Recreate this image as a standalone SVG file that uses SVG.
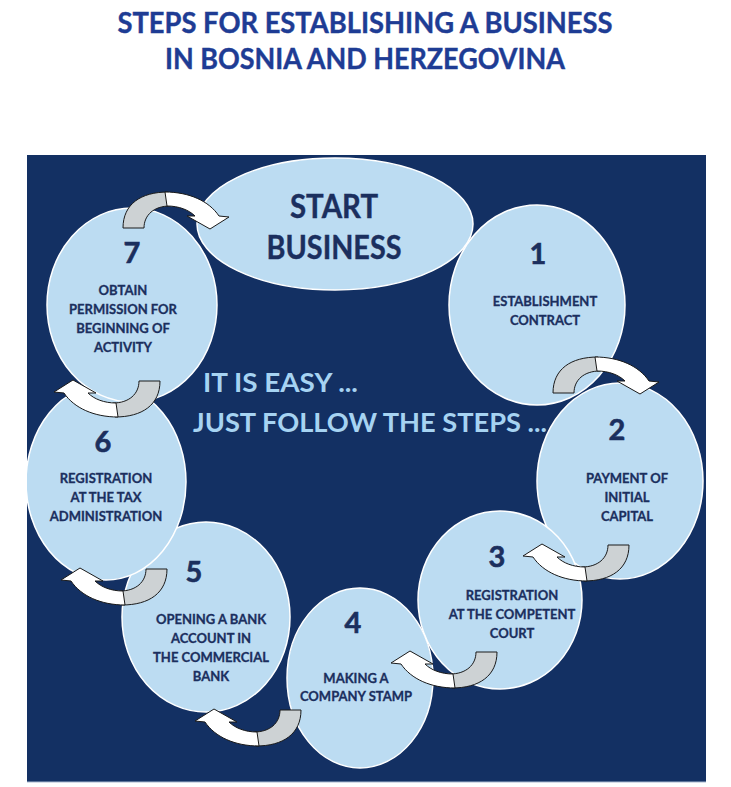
<svg xmlns="http://www.w3.org/2000/svg" xmlns:xlink="http://www.w3.org/1999/xlink" width="731" height="787" viewBox="0 0 731 787">
<style>
.title{font-family:Lato,"Open Sans","Liberation Sans",sans-serif;font-weight:700;font-size:28px;fill:#1e3c94;stroke:#1e3c94;stroke-width:0.4;text-anchor:middle}
.big{font-family:Lato,"Open Sans","Liberation Sans",sans-serif;font-weight:700;font-size:32px;fill:#1b2f5e;stroke:#1b2f5e;stroke-width:0.4;text-anchor:middle}
.num{font-family:Lato,"Open Sans","Liberation Sans",sans-serif;font-weight:700;font-size:29px;fill:#1b2f5e;stroke:#1b2f5e;stroke-width:0.6;text-anchor:middle}
.lbl{font-family:Lato,"Open Sans","Liberation Sans",sans-serif;font-weight:700;font-size:13px;fill:#1b2f5e;stroke:#1b2f5e;stroke-width:0.3;text-anchor:middle}
.easy{font-family:Lato,"Open Sans","Liberation Sans",sans-serif;font-weight:700;font-size:27px;fill:#a6d3f2}
.node ellipse{fill:#bcdcf2;stroke:#ffffff;stroke-width:1.5}
.gray{fill:#cdd2d4;stroke:#1a1a1a;stroke-width:1}
.white{fill:#ffffff;stroke:#1a1a1a;stroke-width:1}
</style>
<defs>
<clipPath id="box"><rect x="27" y="155" width="679" height="627"/></clipPath>
<g id="carrow">
<path class="gray" d="M0,0 C0,-24 18,-36 45,-36 L47,-22 C31,-22 21,-13 21,0 Z"/>
<path class="white" d="M42,-36 C66,-36 86,-27 96,-12 L106,-11 L87,1 L64,-12 L72,-12 C66,-18 56,-22 44,-22 Z"/>
</g>
</defs>
<rect width="731" height="787" fill="#ffffff"/>
<g id="title">
<text class="title" x="365" y="33" textLength="495" lengthAdjust="spacingAndGlyphs">STEPS FOR ESTABLISHING A BUSINESS</text>
<text class="title" x="365" y="69" textLength="400" lengthAdjust="spacingAndGlyphs">IN BOSNIA AND HERZEGOVINA</text>
</g>
<rect x="27" y="155" width="679" height="627" fill="#133063"/>
<line x1="27" y1="782" x2="706" y2="782" stroke="#a9b8d0" stroke-width="1"/>
<g clip-path="url(#box)">
<g id="node-start" class="node">
<ellipse cx="335" cy="224" rx="138" ry="66"/>
<text class="big" x="334" y="218" textLength="88" lengthAdjust="spacingAndGlyphs">START</text>
<text class="big" x="334" y="259" textLength="135" lengthAdjust="spacingAndGlyphs">BUSINESS</text>
</g>
<g id="node-1" class="node">
<ellipse cx="537" cy="305" rx="88" ry="100"/>
<text class="num" x="538" y="264">1</text>
<text class="lbl" x="545" y="306">ESTABLISHMENT</text>
<text class="lbl" x="545" y="325">CONTRACT</text>
</g>
<g id="node-2" class="node">
<ellipse cx="620" cy="481" rx="83" ry="98"/>
<text class="num" x="617" y="440">2</text>
<text class="lbl" x="627" y="483">PAYMENT OF</text>
<text class="lbl" x="627" y="502">INITIAL</text>
<text class="lbl" x="627" y="521">CAPITAL</text>
</g>
<g id="node-3" class="node">
<ellipse cx="500" cy="600" rx="82" ry="89"/>
<text class="num" x="497" y="567">3</text>
<text class="lbl" x="512" y="600">REGISTRATION</text>
<text class="lbl" x="512" y="619">AT THE COMPETENT</text>
<text class="lbl" x="512" y="638">COURT</text>
</g>
<g id="node-4" class="node">
<ellipse cx="360" cy="678" rx="73" ry="90"/>
<text class="num" x="353" y="633">4</text>
<text class="lbl" x="356" y="683">MAKING A</text>
<text class="lbl" x="356" y="701">COMPANY STAMP</text>
</g>
<g id="node-5" class="node">
<ellipse cx="206" cy="617" rx="84" ry="95"/>
<text class="num" x="194" y="582">5</text>
<text class="lbl" x="211" y="624">OPENING A BANK</text>
<text class="lbl" x="211" y="643">ACCOUNT IN</text>
<text class="lbl" x="211" y="662">THE COMMERCIAL</text>
<text class="lbl" x="211" y="681">BANK</text>
</g>
<g id="node-6" class="node">
<ellipse cx="106" cy="482" rx="80" ry="98"/>
<text class="num" x="103" y="452">6</text>
<text class="lbl" x="106" y="483">REGISTRATION</text>
<text class="lbl" x="106" y="502">AT THE TAX</text>
<text class="lbl" x="106" y="521">ADMINISTRATION</text>
</g>
<g id="node-7" class="node">
<ellipse cx="132" cy="305" rx="85" ry="97"/>
<text class="num" x="132" y="263">7</text>
<text class="lbl" x="123" y="295">OBTAIN</text>
<text class="lbl" x="123" y="314">PERMISSION FOR</text>
<text class="lbl" x="123" y="333">BEGINNING OF</text>
<text class="lbl" x="123" y="352">ACTIVITY</text>
</g>
</g>
<g id="slogan">
<text class="easy" x="203" y="392" textLength="155" lengthAdjust="spacingAndGlyphs">IT IS EASY ...</text>
<text class="easy" x="193" y="432" textLength="354" lengthAdjust="spacingAndGlyphs">JUST FOLLOW THE STEPS ...</text>
</g>
<g id="connectors">
<use xlink:href="#carrow" href="#carrow" transform="translate(123,228)"/>
<use xlink:href="#carrow" href="#carrow" transform="translate(553,393)"/>
<use xlink:href="#carrow" href="#carrow" transform="translate(629,545) rotate(180)"/>
<use xlink:href="#carrow" href="#carrow" transform="translate(497,652) rotate(180)"/>
<use xlink:href="#carrow" href="#carrow" transform="translate(301,710) rotate(180)"/>
<use xlink:href="#carrow" href="#carrow" transform="translate(167,569) rotate(180)"/>
<use xlink:href="#carrow" href="#carrow" transform="translate(160,381) rotate(180)"/>
</g>
</svg>
